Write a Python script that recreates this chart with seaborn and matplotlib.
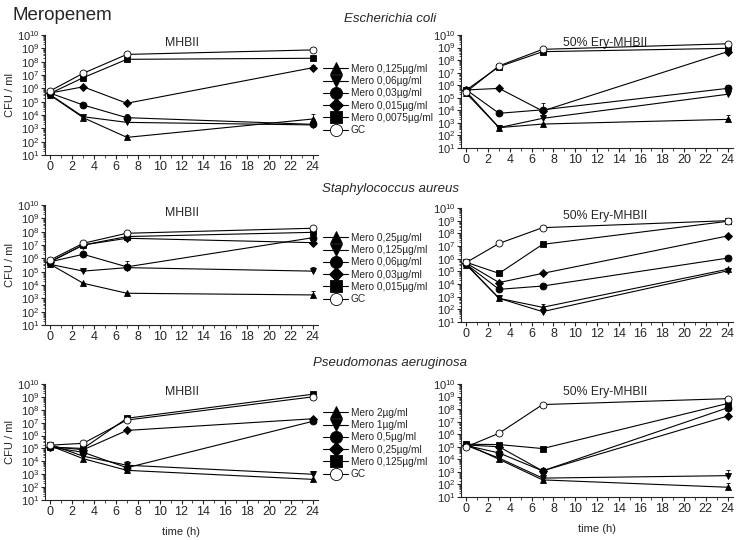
import matplotlib
matplotlib.use('Agg')
import matplotlib.pyplot as plt
from matplotlib.ticker import LogLocator, MultipleLocator, NullFormatter
import seaborn as sns
import numpy as np

# sampling times (h)
TIME = [0, 3, 7, 24]

SERIES_MARKERS = ['^', 'v', 'o', 'D', 's', 'o']

ECOLI_LABELS = ['Mero 0,125µg/ml', 'Mero 0,06µg/ml', 'Mero 0,03µg/ml',
                'Mero 0,015µg/ml', 'Mero 0,0075µg/ml', 'GC']
SAUREUS_LABELS = ['Mero 0,25µg/ml', 'Mero 0,125µg/ml', 'Mero 0,06µg/ml',
                  'Mero 0,03µg/ml', 'Mero 0,015µg/ml', 'GC']
PAERUG_LABELS = ['Mero 2µg/ml', 'Mero 1µg/ml', 'Mero 0,5µg/ml',
                 'Mero 0,25µg/ml', 'Mero 0,125µg/ml', 'GC']

# CFU/ml, one row per series (legend order), columns = TIME
ecoli_mhb = [
    [3.0e5, 6.3e3, 2.1e2, 5.0e3],
    [3.2e5, 7.4e3, 2.8e3, 1.8e3],
    [4.3e5, 5.6e4, 6.3e3, 2.0e3],
    [4.5e5, 1.3e6, 7.6e4, 3.5e7],
    [4.3e5, 6.3e6, 1.5e8, 1.8e8],
    [6.6e5, 1.35e7, 3.5e8, 7.6e8],
]
ecoli_mhb_err = [
    [0, 0, 1.2e2, 6e3],
    [0, 0, 0, 0],
    [0, 0, 5e3, 0],
    [0, 0, 0, 2e7],
    [0, 0, 0, 0],
    [0, 0, 0, 0],
]

ecoli_ery = [
    [2.2e5, 4.2e2, 8.1e2, 1.9e3],
    [3.0e5, 4.2e2, 2.3e3, 1.9e5],
    [4.2e5, 5.8e3, 1.1e4, 5.6e5],
    [4.2e5, 5.6e5, 8.9e3, 4.7e8],
    [4.2e5, 3.0e7, 4.7e8, 8.7e8],
    [3.0e5, 3.5e7, 7.2e8, 2.0e9],
]
ecoli_ery_err = [
    [0, 0, 0, 2.5e3],
    [0, 2e2, 1.5e3, 0],
    [0, 0, 3e4, 5e5],
    [0, 0, 0, 0],
    [0, 0, 0, 0],
    [0, 0, 0, 0],
]

saureus_mhb = [
    [3.5e5, 1.35e4, 2.4e3, 1.8e3],
    [3.5e5, 1.1e5, 2.0e5, 1.1e5],
    [5.6e5, 2.0e6, 2.3e5, 3.5e7],
    [5.6e5, 1.0e7, 3.2e7, 1.5e7],
    [5.6e5, 1.0e7, 4.3e7, 8.9e7],
    [7.6e5, 1.35e7, 7.6e7, 1.8e8],
]
saureus_mhb_err = [
    [0, 0, 0, 2e3],
    [0, 0, 0, 1e5],
    [0, 0, 4e5, 0],
    [0, 0, 0, 0],
    [0, 0, 0, 0],
    [0, 0, 0, 0],
]

saureus_ery = [
    [3.2e5, 7.4e2, 1.45e2, 1.45e5],
    [3.5e5, 7.4e2, 6.6e1, 1.1e5],
    [3.5e5, 3.8e3, 6.9e3, 1.1e6],
    [4.3e5, 1.3e4, 6.9e4, 6.2e7],
    [5.1e5, 6.9e4, 1.35e7, 8.9e8],
    [5.1e5, 1.6e7, 2.8e8, 1.0e9],
]
saureus_ery_err = [
    [0, 0, 1e2, 0],
    [0, 3e2, 0, 0],
    [0, 0, 0, 0],
    [0, 0, 0, 0],
    [0, 0, 0, 0],
    [0, 0, 0, 0],
]

paerug_mhb = [
    [1.6e5, 1.6e4, 2.0e3, 4.0e2],
    [2.0e5, 2.5e4, 5.0e3, 1.0e3],
    [1.26e5, 5.0e4, 3.2e3, 1.26e7],
    [1.4e5, 7.9e4, 2.5e6, 2.0e7],
    [1.26e5, 1.0e5, 2.2e7, 1.6e9],
    [1.8e5, 2.5e5, 1.6e7, 1.0e9],
]
paerug_mhb_err = [
    [0, 0, 0, 0],
    [1e5, 0, 6e3, 8e2],
    [0, 0, 0, 0],
    [0, 0, 0, 1e7],
    [0, 0, 0, 0],
    [0, 0, 0, 0],
]

paerug_ery = [
    [1.6e5, 1.0e4, 2.3e2, 6.0e1],
    [1.26e5, 1.26e4, 3.2e2, 5.0e2],
    [1.26e5, 3.2e4, 1.2e3, 1.26e8],
    [1.4e5, 1.0e5, 1.2e3, 2.8e7],
    [1.6e5, 1.5e5, 7.2e4, 2.8e8],
    [1.0e5, 1.2e6, 2.3e8, 6.8e8],
]
paerug_ery_err = [
    [0, 0, 0, 8e1],
    [0, 0, 0, 8e2],
    [0, 0, 0, 0],
    [0, 0, 0, 0],
    [0, 0, 0, 0],
    [0, 0, 0, 0],
]

sns.set_style('ticks')
plt.rcParams['font.family'] = ['Liberation Sans', 'DejaVu Sans']
plt.rcParams['mathtext.fontset'] = 'custom'
plt.rcParams['mathtext.rm'] = 'Liberation Sans'
plt.rcParams['mathtext.it'] = 'Liberation Sans:italic'
plt.rcParams['axes.linewidth'] = 0.8

W, H = 739, 540
fig = plt.figure(figsize=(W / 100, H / 100), dpi=100)


def box(left, top, right, bottom):
    return [left / W, 1 - bottom / H, (right - left) / W, (bottom - top) / H]


def draw_panel(ax, rows, errs, title, title_x):
    handles = []
    for i, (vals, err) in enumerate(zip(rows, errs)):
        face = 'white' if i == 5 else 'black'
        ms = 4.0 if SERIES_MARKERS[i] == 'D' else 5.0
        sns.lineplot(x=TIME, y=vals, ax=ax, color='black', lw=0.8,
                     marker=SERIES_MARKERS[i], markersize=ms,
                     markerfacecolor=face, markeredgecolor='black',
                     markeredgewidth=0.6, errorbar=None, zorder=3 + i)
        handles.append(ax.lines[-1])
        err = np.array(err, dtype=float)
        if err.any():
            ax.errorbar(TIME, vals, yerr=[np.zeros(4), err], fmt='none',
                        ecolor='black', elinewidth=0.6, capsize=1.5,
                        capthick=0.6, zorder=2)
    ax.set_yscale('log')
    ax.set_ylim(10, 1e10)
    ax.set_xlim(-0.5, 24.5)
    ax.set_xticks(range(0, 25, 2))
    ax.xaxis.set_minor_locator(MultipleLocator(1))
    ax.yaxis.set_major_locator(LogLocator(base=10, numticks=20))
    ax.yaxis.set_minor_locator(LogLocator(base=10, subs=np.arange(2, 10), numticks=20))
    ax.yaxis.set_minor_formatter(NullFormatter())
    ax.tick_params(which='major', direction='out', length=3, width=0.8,
                   labelsize=9, pad=1.5)
    ax.tick_params(which='minor', direction='out', length=1.8, width=0.6)
    ax.tick_params(axis='y', labelsize=8, pad=1)
    sns.despine(ax=ax)
    ax.text(title_x, 0.985, title, transform=ax.transAxes, ha='center',
            va='top', fontsize=8.8)
    return handles


panels = [
    (box(45, 35, 318, 155), ecoli_mhb, ecoli_mhb_err, 'MHBII', 0.5),
    (box(461, 35, 733, 148), ecoli_ery, ecoli_ery_err, '50% Ery-MHBII', 0.53),
    (box(45, 205, 318, 325), saureus_mhb, saureus_mhb_err, 'MHBII', 0.5),
    (box(461, 208, 733, 322), saureus_ery, saureus_ery_err, '50% Ery-MHBII', 0.53),
    (box(45, 384, 318, 500), paerug_mhb, paerug_mhb_err, 'MHBII', 0.5),
    (box(461, 384, 733, 497), paerug_ery, paerug_ery_err, '50% Ery-MHBII', 0.53),
]
legend_labels = [ECOLI_LABELS, SAUREUS_LABELS, PAERUG_LABELS]
legend_tops = [64, 233, 408]
species = ['Escherichia coli', 'Staphylococcus aureus', 'Pseudomonas aeruginosa']
species_y = [19, 189, 363]

axes = []
for k, (rect, rows, errs, title, tx) in enumerate(panels):
    ax = fig.add_axes(rect)
    handles = draw_panel(ax, rows, errs, title, tx)
    axes.append(ax)
    row = k // 2
    if k % 2 == 0:
        ax.set_ylabel('CFU / ml', fontsize=8)
        ax.yaxis.set_label_coords(-0.11, 0.5)
        ax.legend(handles, legend_labels[row], loc='upper left',
                  bbox_to_anchor=(323 / W, 1 - legend_tops[row] / H),
                  bbox_transform=fig.transFigure, frameon=False,
                  fontsize=7.3, markerscale=1.75, handlelength=2.5,
                  handletextpad=0.25, labelspacing=0.22, borderpad=0,
                  borderaxespad=0)
    if row == 2:
        ax.set_xlabel('time (h)', fontsize=8, labelpad=6)

fig.text(13 / W, 1 - 19.5 / H, 'Meropenem', fontsize=13.5, va='baseline')
for name, y in zip(species, species_y):
    fig.text(390 / W, 1 - y / H, name, style='italic', fontsize=9.5,
             ha='center', va='center')

fig.savefig('out.png', dpi=100)
